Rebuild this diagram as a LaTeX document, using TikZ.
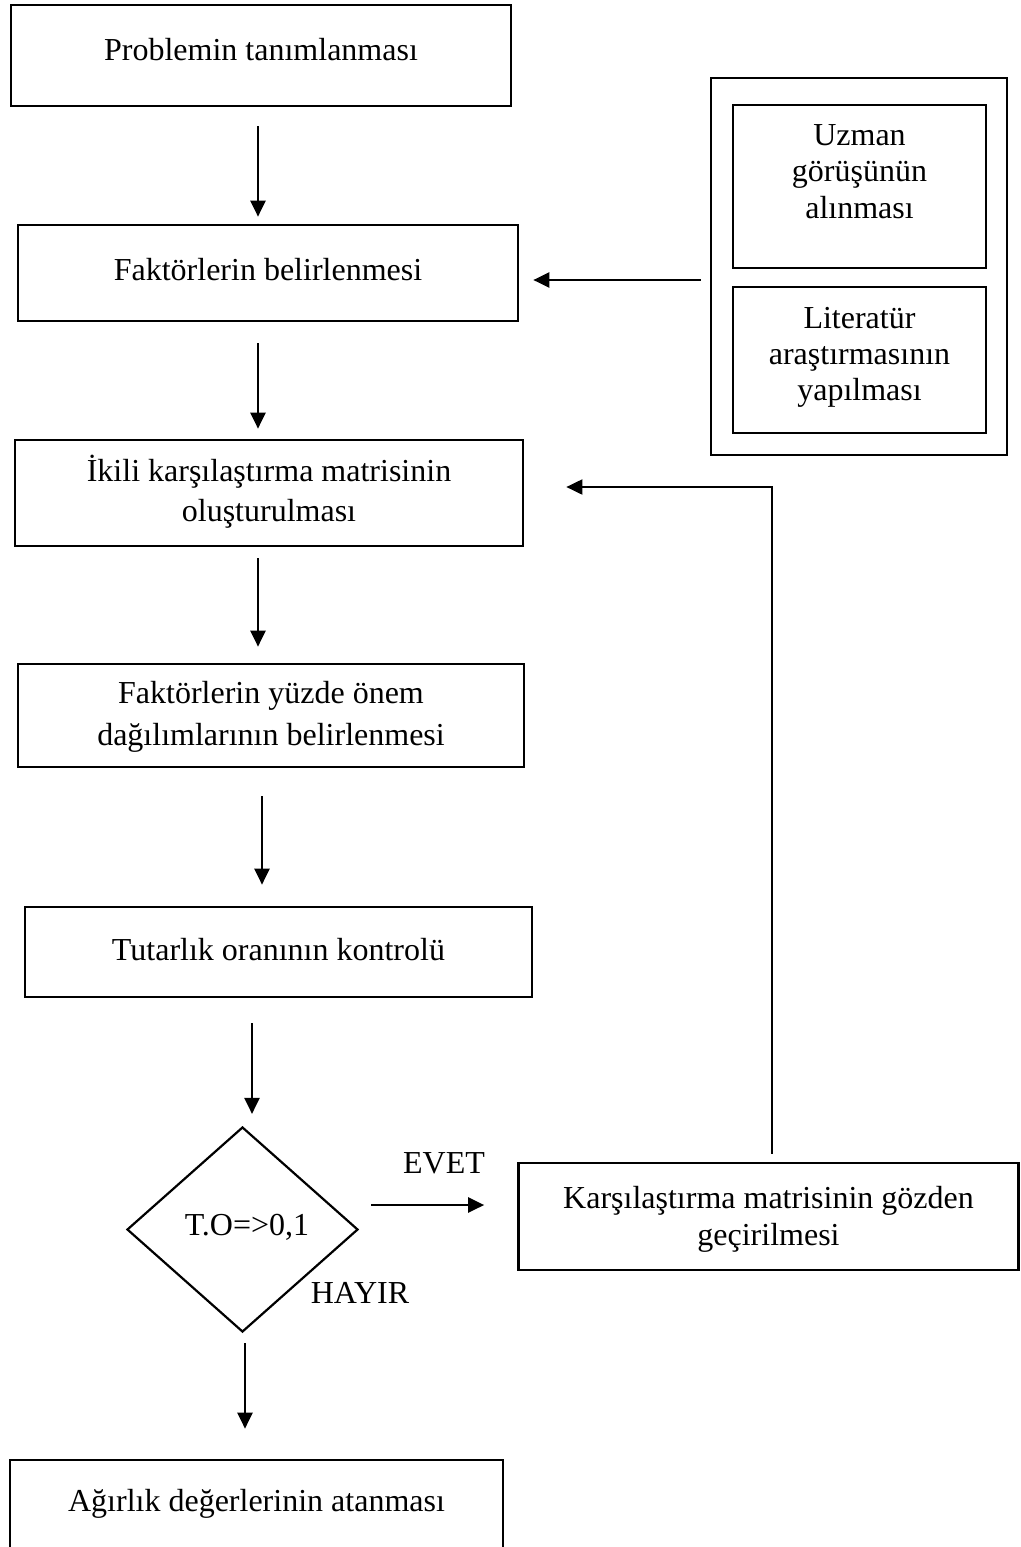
\documentclass[tikz,border=0pt]{standalone}
\usepackage{fontspec}
\setmainfont{Liberation Serif}
\usetikzlibrary{arrows.meta,shapes.geometric}
\begin{document}
\begin{tikzpicture}[x=0.5pt,y=-0.5pt,
  box/.style={draw,line width=1.35pt,inner sep=0pt,align=center,text depth=0pt},
  fs/.style={font=\fontsize{16}{#1}\selectfont},
  arr/.style={line width=1.15pt,-{Triangle[length=8pt,width=7.5pt]}},
  lbl/.style={font=\fontsize{16}{18}\selectfont,inner sep=0pt}]
\useasboundingbox (0,0) rectangle (1021,1547);
\clip (0,0) rectangle (1021,1547);
\fill[white] (0,0) rectangle (1021,1547);

\node[box,fs=18.5,minimum width=250pt,minimum height=50.5pt,text height=5.5pt] (b1) at (261,55.5) {Problemin tanımlanması};
\node[box,fs=18.5,minimum width=250pt,minimum height=48pt,text height=7pt] (b2) at (268,273) {Faktörlerin belirlenmesi};
\node[box,fs=20,minimum width=254pt,minimum height=53pt,text height=28pt] (b3) at (269,493) {İkili karşılaştırma matrisinin\\oluşturulması};
\node[box,fs=21,minimum width=253pt,minimum height=51.5pt,text height=29.5pt] (b4) at (271,715.5) {Faktörlerin yüzde önem\\dağılımlarının belirlenmesi};
\node[box,fs=18.5,minimum width=253.5pt,minimum height=45pt,text height=8pt] (b5) at (278.5,952) {Tutarlık oranının kontrolü};
\node[box,fs=18.5,line width=1.1pt,shape=diamond,minimum width=115.5pt,minimum height=102.5pt,text height=6pt] (dia) at (242.5,1229.5) {\hspace*{4.5pt}T.O=>0,1};
\node[box,fs=18.5,minimum width=250pt,minimum height=53.5pt,text height=28.5pt] (k) at (768.5,1216.5) {Karşılaştırma matrisinin gözden\\geçirilmesi};
\node[box,fs=18.5,minimum width=246.5pt,minimum height=50pt,text height=1pt] (last) at (256.5,1510) {Ağırlık değerlerinin atanması};

\node[box,minimum width=148pt,minimum height=188.5pt] (outer) at (859,266.5) {};
\node[box,fs=18.25,minimum width=126.5pt,minimum height=81.5pt,text height=31.5pt] (u) at (859.5,186.5) {Uzman\\görüşünün\\alınması};
\node[box,fs=18,minimum width=126.5pt,minimum height=73pt,text height=40pt] (lit) at (859.5,360) {Literatür\\araştırmasının\\yapılması};

\node[lbl] (evet) at (444,1163) {EVET};
\node[lbl] (hayir) at (360,1293) {HAYIR};

\draw[arr,shorten <=9.5pt,shorten >=3.5pt] ([xshift=-1.5pt]b1.south) -- ([xshift=-5pt]b2.north);
\draw[arr,shorten <=10.5pt,shorten >=5pt] ([xshift=-5pt]b2.south) -- ([xshift=-5.5pt]b3.north);
\draw[arr,shorten <=5.5pt,shorten >=8pt] ([xshift=-5.5pt]b3.south) -- ([xshift=-6.5pt]b4.north);
\draw[arr,shorten <=14pt,shorten >=10.5pt] ([xshift=-4.5pt]b4.south) -- ([xshift=-8.25pt]b5.north);
\draw[arr,shorten <=12.5pt,shorten >=6pt] ([xshift=-13.25pt]b5.south) -- ([xshift=4.75pt]dia.north);
\draw[arr,shorten <=5pt,shorten >=15pt] ([xshift=1.25pt]dia.south) -- ([xshift=-5.75pt]last.north);
\draw[arr,shorten <=6pt,shorten >=16.5pt] ([yshift=12.25pt]dia.east) -- ([yshift=5.75pt]k.west);
\draw[arr,line width=1pt,shorten <=4pt,shorten >=21pt] ([xshift=1.75pt]k.north) |- ([yshift=3pt]b3.east);
\draw[arr,shorten <=4.5pt,shorten >=7pt] ([yshift=-6.75pt]outer.west) -- ([yshift=-3.5pt]b2.east);
\end{tikzpicture}
\end{document}
